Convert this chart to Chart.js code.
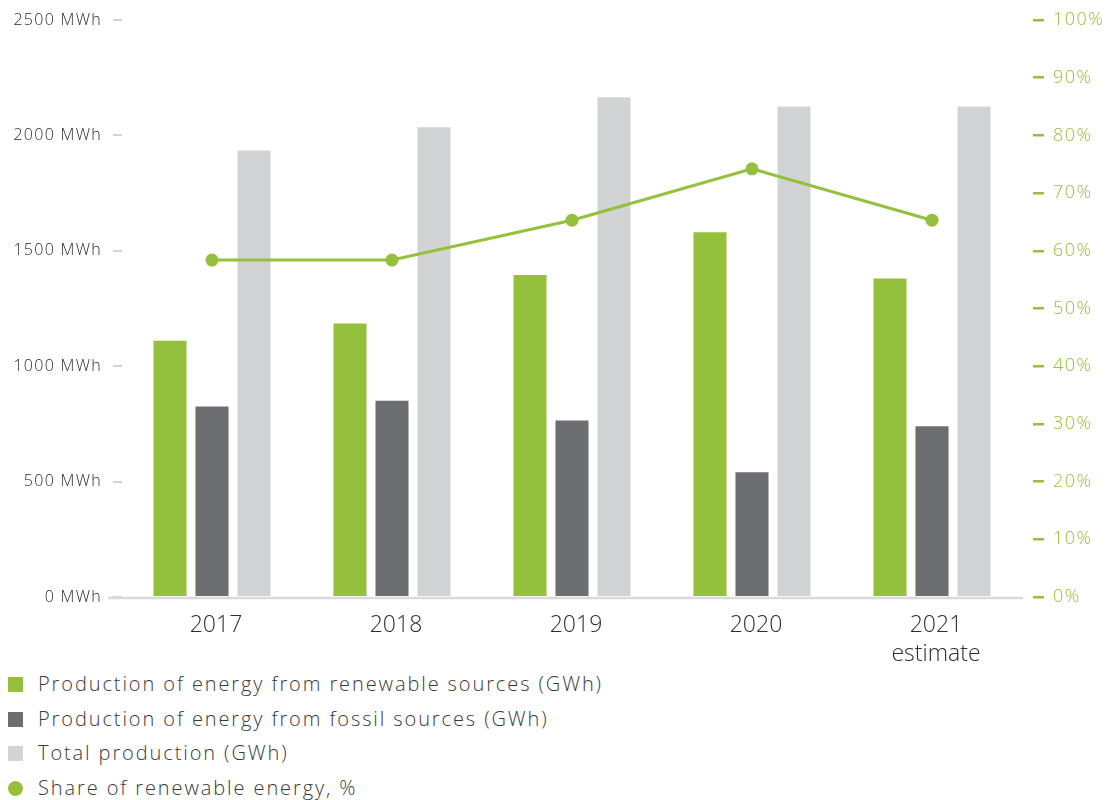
<!DOCTYPE html>
<html lang="en">
<head>
  <meta charset="UTF-8" />
  <title>Energy production 2017–2021</title>
  <script src="https://cdn.jsdelivr.net/npm/chart.js"></script>
  <style>
    html, body { margin: 0; padding: 0; background: #fff; }
    body { width: 1109px; height: 800px; position: relative; overflow: hidden; }
    #energyChart { position: absolute; left: 0; top: 0; }
    .legend { position: absolute; left: 8px; top: 670px;
              font-family: 'Open Sans', sans-serif; font-weight: 300; }
    .legend div { height: 34.7px; line-height: 28px; font-size: 20px; letter-spacing: 1.9px;
                  color: #3a3a3a; position: relative; padding-left: 30px; white-space: nowrap; }
    .legend span { position: absolute; left: 0; top: 7px; width: 15px; height: 15px; }
    .legend span.dot { border-radius: 50%; }
  </style>
</head>
<body>
  <canvas id="energyChart" width="1109" height="665"></canvas>

  <div class="legend">
    <div><span style="background:#94c03b"></span>Production of energy from renewable sources (GWh)</div>
    <div><span style="background:#6d6e71"></span>Production of energy from fossil sources (GWh)</div>
    <div><span style="background:#d1d3d4"></span>Total production (GWh)</div>
    <div><span class="dot" style="background:#94c03b"></span>Share of renewable energy, %</div>
  </div>

  <script>
    const years = ['2017', '2018', '2019', '2020', ['2021', 'estimate']];
    const renewable = [1110, 1185, 1395, 1580, 1380];
    const fossil = [825, 850, 765, 540, 740];
    const total = [1935, 2035, 2165, 2125, 2125];
    const renewableShare = [58.4, 58.4, 65.3, 74.2, 65.3];

    const GREEN = '#94c03b';
    const DARK = '#6d6e71';
    const LIGHT = '#d1d3d4';
    const FONT = "'Open Sans', sans-serif";

    // the axis labels are set a little wider than the font's default spacing
    const tickSpacing = { mwh: '1.3px', share: '1.5px' };

    const spacedTicks = {
      id: 'spacedTicks',
      beforeDraw(chart) {
        for (const [id, spacing] of Object.entries(tickSpacing)) {
          const scale = chart.scales[id];
          if (!scale || scale._spaced) continue;
          const drawLabels = scale.drawLabels;
          scale.drawLabels = function (area) {
            const prev = this.ctx.letterSpacing;
            this.ctx.letterSpacing = spacing;
            drawLabels.call(this, area);
            this.ctx.letterSpacing = prev;
          };
          scale._spaced = true;
        }
      }
    };

    // light grey base line, running a little past the left edge of the plot
    const baseLine = {
      id: 'baseLine',
      beforeDatasetsDraw(chart) {
        const { ctx, chartArea } = chart;
        ctx.save();
        ctx.strokeStyle = '#d9d9d9';
        ctx.lineWidth = 2.5;
        ctx.beginPath();
        ctx.moveTo(108, chartArea.bottom + 1);
        ctx.lineTo(chartArea.right + 1, chartArea.bottom + 1);
        ctx.stroke();
        ctx.restore();
      }
    };

    new Chart(document.getElementById('energyChart'), {
      type: 'bar',
      data: {
        labels: years,
        datasets: [
          { type: 'line', label: 'Share of renewable energy, %', data: renewableShare, yAxisID: 'share',
            borderColor: GREEN, backgroundColor: GREEN, borderWidth: 3,
            pointRadius: 6.5, pointBackgroundColor: GREEN, pointBorderWidth: 0, order: 0, tension: 0 },
          { label: 'Production of energy from renewable sources (GWh)', data: renewable, backgroundColor: GREEN, yAxisID: 'mwh', order: 1 },
          { label: 'Production of energy from fossil sources (GWh)', data: fossil, backgroundColor: DARK, yAxisID: 'mwh', order: 1 },
          { label: 'Total production (GWh)', data: total, backgroundColor: LIGHT, yAxisID: 'mwh', order: 1 }
        ]
      },
      options: {
        responsive: false,
        animation: false,
        devicePixelRatio: 1,
        categoryPercentage: 0.7,
        barPercentage: 0.786,
        layout: { padding: { top: 20, bottom: 0, left: 0, right: 0 } },
        plugins: { legend: { display: false }, tooltip: { enabled: false } },
        scales: {
          x: {
            grid: { display: false, drawTicks: false },
            border: { display: false },
            ticks: { color: '#2e2e2e', padding: 14, labelOffset: 4,
                     font: { family: FONT, size: 23, weight: 300, lineHeight: 1.25 } },
            afterFit(scale) { scale.height = 68; }
          },
          mwh: {
            position: 'left',
            min: 0, max: 2500,
            ticks: { stepSize: 500, padding: 8, color: '#2b2b2b',
                     font: { family: FONT, size: 16, weight: 300 },
                     callback: v => v + ' MWh' },
            grid: { drawOnChartArea: false, tickLength: 12, tickColor: '#d3d3d3', lineWidth: 2,
                    tickBorderDash: [0, 3, 9, 40] },
            border: { display: false },
            afterFit(scale) { scale.width = 122; }
          },
          share: {
            position: 'right',
            min: 0, max: 100,
            ticks: { stepSize: 10, padding: 9, color: GREEN,
                     font: { family: FONT, size: 18, weight: 300 },
                     callback: v => v + '%' },
            grid: { drawOnChartArea: false, tickLength: 22, tickColor: GREEN, lineWidth: 2.5,
                    tickBorderDash: [0, 11, 11, 40] },
            border: { display: false },
            afterFit(scale) { scale.width = 87; }
          }
        }
      },
      plugins: [spacedTicks, baseLine]
    });
  </script>
</body>
</html>
